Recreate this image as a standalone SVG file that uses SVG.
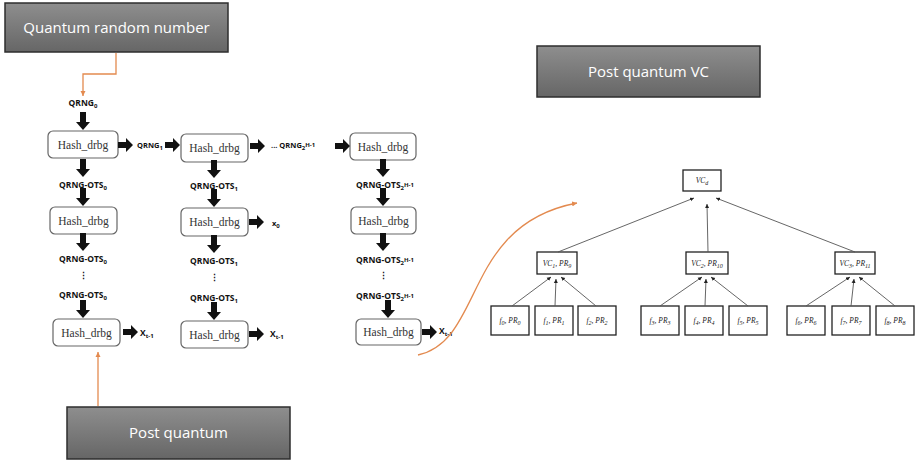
<svg xmlns="http://www.w3.org/2000/svg" width="923" height="462" viewBox="0 0 923 462">
<style>
.big{fill:url(#g);stroke:#2e2e2e;stroke-width:1.5}
.bt{font-family:"Open Sans","Liberation Sans",sans-serif;font-size:15px;fill:#fff;text-anchor:middle}
.hb{fill:#fff;stroke:#666;stroke-width:1.2}
.ht{font-family:"Liberation Serif","DejaVu Serif",serif;font-size:11.5px;fill:#333;text-anchor:middle}
.lb{font-family:"Open Sans","Liberation Sans",sans-serif;font-size:8.5px;font-weight:bold;fill:#111;text-anchor:middle}
.ls{font-family:"Open Sans","Liberation Sans",sans-serif;font-size:8.5px;font-weight:bold;fill:#111}
.sub{font-size:6px}
.or{fill:none;stroke:#e38a4f;stroke-width:1.3}
.tb{fill:#fff;stroke:#222;stroke-width:1.3}
.tt{font-family:"Liberation Serif","DejaVu Serif",serif;font-style:italic;font-size:7.5px;fill:#222;text-anchor:middle}
.tl{fill:none;stroke:#555;stroke-width:0.9}
</style>
<defs>
<linearGradient id="g" x1="0" y1="0" x2="0" y2="1">
<stop offset="0" stop-color="#8e8e8e"/>
<stop offset="1" stop-color="#666"/>
</linearGradient>
<polygon id="ad" points="-3,-18 3,-18 3,-8 7,-8 0,0 -7,-8 -3,-8" fill="#111"/>
<polygon id="ar" points="-15,-3 -7,-3 -7,-7 0,0 -7,7 -7,3 -15,3" fill="#111"/>
<marker id="om" markerWidth="6" markerHeight="6" refX="5" refY="3" orient="auto" markerUnits="userSpaceOnUse">
<path d="M0,0.5 L5,3 L0,5.5 Z" fill="#e38a4f"/>
</marker>
<marker id="tm" markerWidth="5" markerHeight="5" refX="4" refY="2.5" orient="auto" markerUnits="userSpaceOnUse">
<path d="M0,0.5 L4,2.5 L0,4.5 Z" fill="#222"/>
</marker>
</defs>

<g id="quantum-random-number">
<rect class="big" x="5" y="3" width="223" height="49"/>
<text class="bt" x="116.5" y="33">Quantum random number</text>
</g>
<g id="post-quantum">
<rect class="big" x="67" y="407" width="223" height="52"/>
<text class="bt" x="178.5" y="438">Post quantum</text>
</g>
<g id="post-quantum-vc">
<rect class="big" x="537" y="46" width="223" height="51"/>
<text class="bt" x="648.5" y="77">Post quantum VC</text>
</g>

<g id="col1">
<rect class="hb" x="48" y="131" width="70" height="27" rx="5"/><text class="ht" x="83" y="148.5">Hash_drbg</text>
<rect class="hb" x="50" y="207" width="67" height="27" rx="5"/><text class="ht" x="83.5" y="224.5">Hash_drbg</text>
<rect class="hb" x="53" y="319" width="67" height="27" rx="5"/><text class="ht" x="86.5" y="336.5">Hash_drbg</text>
</g>
<g id="col2">
<rect class="hb" x="181" y="134" width="67" height="28" rx="5"/><text class="ht" x="214.5" y="152">Hash_drbg</text>
<rect class="hb" x="181" y="208" width="67" height="28" rx="5"/><text class="ht" x="214.5" y="226">Hash_drbg</text>
<rect class="hb" x="181" y="321" width="67" height="27" rx="5"/><text class="ht" x="214.5" y="338.5">Hash_drbg</text>
</g>
<g id="col3">
<rect class="hb" x="350" y="133" width="66" height="27" rx="5"/><text class="ht" x="383" y="150.5">Hash_drbg</text>
<rect class="hb" x="351" y="207" width="65" height="27" rx="5"/><text class="ht" x="383.5" y="224.5">Hash_drbg</text>
<rect class="hb" x="356" y="319" width="65" height="26" rx="5"/><text class="ht" x="388.5" y="336">Hash_drbg</text>
</g>

<g id="labels">
<text class="lb" x="83" y="106">QRNG<tspan class="sub" dy="2">0</tspan></text>
<text class="lb" x="150" y="148" style="font-size:7.5px">QRNG<tspan class="sub" dy="2">1</tspan></text>
<text class="ls" x="271" y="148" style="font-size:7.5px">... QRNG<tspan class="sub" dy="2">2</tspan><tspan class="sub" dy="-3">H-1</tspan></text>
<text class="lb" x="83" y="188">QRNG-OTS<tspan class="sub" dy="2">0</tspan></text>
<text class="lb" x="83" y="262">QRNG-OTS<tspan class="sub" dy="2">0</tspan></text>
<text class="lb" x="83" y="279">⋮</text>
<text class="lb" x="83" y="298">QRNG-OTS<tspan class="sub" dy="2">0</tspan></text>
<text class="ls" x="140" y="336">X<tspan class="sub" dy="2">t-1</tspan></text>
<text class="lb" x="214" y="189">QRNG-OTS<tspan class="sub" dy="2">1</tspan></text>
<text class="ls" x="272" y="226" style="font-size:7.5px">x<tspan class="sub" dy="2">0</tspan></text>
<text class="lb" x="214" y="264">QRNG-OTS<tspan class="sub" dy="2">1</tspan></text>
<text class="lb" x="214" y="281">⋮</text>
<text class="lb" x="214" y="301">QRNG-OTS<tspan class="sub" dy="2">1</tspan></text>
<text class="ls" x="270" y="337">X<tspan class="sub" dy="2">t-1</tspan></text>
<text class="lb" x="385" y="188">QRNG-OTS<tspan class="sub" dy="2">2</tspan><tspan class="sub" dy="-3">H-1</tspan></text>
<text class="lb" x="385" y="263">QRNG-OTS<tspan class="sub" dy="2">2</tspan><tspan class="sub" dy="-3">H-1</tspan></text>
<text class="lb" x="383" y="279">⋮</text>
<text class="lb" x="385" y="299">QRNG-OTS<tspan class="sub" dy="2">2</tspan><tspan class="sub" dy="-3">H-1</tspan></text>
<text class="ls" x="439" y="334">X<tspan class="sub" dy="2">t-1</tspan></text>
</g>

<g id="vc-tree">
<rect class="tb" x="683" y="170" width="38" height="21"/><text class="tt" x="702" y="183">VC<tspan class="sub" dy="2">d</tspan></text>
<rect class="tb" x="537" y="252" width="40" height="22"/><text class="tt" x="557" y="266">VC<tspan class="sub" dy="2">1</tspan><tspan dy="-2">, PR</tspan><tspan class="sub" dy="2">9</tspan></text>
<rect class="tb" x="686" y="252" width="42" height="22"/><text class="tt" x="707" y="266">VC<tspan class="sub" dy="2">2</tspan><tspan dy="-2">, PR</tspan><tspan class="sub" dy="2">10</tspan></text>
<rect class="tb" x="835" y="252" width="40" height="22"/><text class="tt" x="855" y="266">VC<tspan class="sub" dy="2">3</tspan><tspan dy="-2">, PR</tspan><tspan class="sub" dy="2">11</tspan></text>
<rect class="tb" x="491" y="306" width="38" height="29"/><text class="tt" x="510" y="323">f<tspan class="sub" dy="2">0</tspan><tspan dy="-2">, PR</tspan><tspan class="sub" dy="2">0</tspan></text>
<rect class="tb" x="535" y="306" width="38" height="29"/><text class="tt" x="554" y="323">f<tspan class="sub" dy="2">1</tspan><tspan dy="-2">, PR</tspan><tspan class="sub" dy="2">1</tspan></text>
<rect class="tb" x="578" y="306" width="38" height="29"/><text class="tt" x="597" y="323">f<tspan class="sub" dy="2">2</tspan><tspan dy="-2">, PR</tspan><tspan class="sub" dy="2">2</tspan></text>
<rect class="tb" x="641" y="306" width="38" height="29"/><text class="tt" x="660" y="323">f<tspan class="sub" dy="2">3</tspan><tspan dy="-2">, PR</tspan><tspan class="sub" dy="2">3</tspan></text>
<rect class="tb" x="685" y="306" width="38" height="29"/><text class="tt" x="704" y="323">f<tspan class="sub" dy="2">4</tspan><tspan dy="-2">, PR</tspan><tspan class="sub" dy="2">4</tspan></text>
<rect class="tb" x="729" y="306" width="38" height="29"/><text class="tt" x="748" y="323">f<tspan class="sub" dy="2">5</tspan><tspan dy="-2">, PR</tspan><tspan class="sub" dy="2">5</tspan></text>
<rect class="tb" x="787" y="306" width="38" height="29"/><text class="tt" x="806" y="323">f<tspan class="sub" dy="2">6</tspan><tspan dy="-2">, PR</tspan><tspan class="sub" dy="2">6</tspan></text>
<rect class="tb" x="832" y="306" width="38" height="29"/><text class="tt" x="851" y="323">f<tspan class="sub" dy="2">7</tspan><tspan dy="-2">, PR</tspan><tspan class="sub" dy="2">7</tspan></text>
<rect class="tb" x="876" y="306" width="38" height="29"/><text class="tt" x="895" y="323">f<tspan class="sub" dy="2">8</tspan><tspan dy="-2">, PR</tspan><tspan class="sub" dy="2">8</tspan></text>
</g>

<g id="connectors">
<path class="or" d="M116,53 V74 H83 V96" marker-end="url(#om)"/>
<path class="or" d="M98,406 V352" marker-end="url(#om)"/>
<path class="or" d="M418,355 C485,340 462,225 577,203" marker-end="url(#om)"/>
<use href="#ad" x="83" y="130"/>
<use href="#ar" x="133" y="145"/>
<use href="#ar" x="180" y="145"/>
<use href="#ar" x="265" y="146"/>
<use href="#ar" x="350" y="146"/>
<use href="#ad" x="83" y="177"/>
<use href="#ad" x="83" y="206"/>
<use href="#ad" x="83" y="251"/>
<use href="#ad" x="83" y="318"/>
<use href="#ar" x="138" y="332"/>
<use href="#ad" x="214" y="178"/>
<use href="#ad" x="214" y="207"/>
<use href="#ar" x="264" y="222"/>
<use href="#ad" x="214" y="253"/>
<use href="#ad" x="214" y="320"/>
<use href="#ar" x="264" y="334"/>
<use href="#ad" x="383" y="177"/>
<use href="#ad" x="383" y="206"/>
<use href="#ad" x="383" y="251"/>
<use href="#ad" x="388" y="318"/>
<use href="#ar" x="437" y="332"/>
<line class="tl" x1="558" y1="252" x2="694" y2="198" marker-end="url(#tm)"/>
<line class="tl" x1="708" y1="252" x2="707" y2="204" marker-end="url(#tm)"/>
<line class="tl" x1="855" y1="252" x2="716" y2="198" marker-end="url(#tm)"/>
<line class="tl" x1="512" y1="306" x2="551" y2="277" marker-end="url(#tm)"/>
<line class="tl" x1="555" y1="306" x2="556" y2="279" marker-end="url(#tm)"/>
<line class="tl" x1="596" y1="306" x2="561" y2="277" marker-end="url(#tm)"/>
<line class="tl" x1="660" y1="306" x2="702" y2="277" marker-end="url(#tm)"/>
<line class="tl" x1="705" y1="306" x2="706" y2="279" marker-end="url(#tm)"/>
<line class="tl" x1="748" y1="306" x2="711" y2="277" marker-end="url(#tm)"/>
<line class="tl" x1="806" y1="306" x2="850" y2="277" marker-end="url(#tm)"/>
<line class="tl" x1="851" y1="306" x2="854" y2="279" marker-end="url(#tm)"/>
<line class="tl" x1="895" y1="306" x2="859" y2="277" marker-end="url(#tm)"/>
</g>
</svg>
